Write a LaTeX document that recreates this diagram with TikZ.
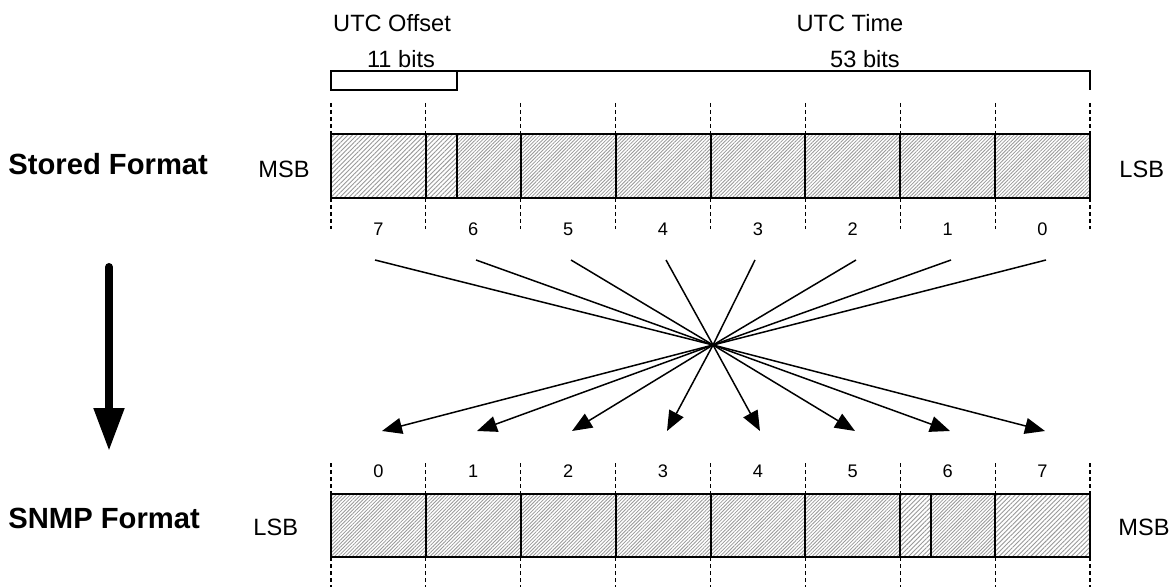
\documentclass[tikz,border=0pt]{standalone}
\usepackage{fontspec}
\setmainfont{Liberation Sans}
\usetikzlibrary{arrows.meta,patterns.meta}

\begin{document}
\begin{tikzpicture}[x=0.5pt,y=-0.5pt,
  lbl/.style={font=\fontsize{11.8pt}{14pt}\selectfont, inner sep=0pt, anchor=base},
  num/.style={font=\fontsize{9.1pt}{11pt}\selectfont, inner sep=0pt, anchor=base},
  heading/.style={font=\fontsize{14.6pt}{17pt}\selectfont\bfseries, inner sep=0pt, anchor=base west},
  guide/.style={line width=0.6pt, dash pattern=on 2pt off 1.5pt},
  hatchoff/.style={pattern={Lines[angle=45,distance=1.6pt,line width=0.45pt]}, pattern color=gray!80},
  hatchtime/.style={pattern={Lines[angle=45,distance=1.25pt,line width=0.4pt]}, pattern color=gray!80},
  cell/.style={line width=1pt},
  bracket/.style={line width=0.7pt},
  ray/.style={line width=0.75pt, -{Triangle[length=10pt,width=8pt]}},
  bigarrow/.style={line width=4pt, line cap=round, -{Triangle[length=21.5pt,width=14.5pt]}},
]
\useasboundingbox (0,0) rectangle (1171,587);

% field labels and bracket
\node[lbl] (utcoff) at (392,32) {UTC Offset};
\node[lbl] (utctime) at (850,32) {UTC Time};
\node[lbl] (offbits) at (401,68) {11 bits};
\node[lbl] (timebits) at (865,68) {53 bits};
\draw[bracket] (331,71) rectangle (457,90);
\draw[bracket] (457,71) -- (1090,71) -- (1090,90);

% byte boundaries
\foreach \i in {0,...,8} {
  \pgfmathsetmacro{\bx}{331+\i*94.875}
  \draw[guide] (\bx,103) -- (\bx,134);
  \draw[guide] (\bx,198) -- (\bx,229);
  \draw[guide] (\bx,463) -- (\bx,494);
  \draw[guide] (\bx,557) -- (\bx,587);
}

% stored format bar
\fill[white] (331,134) rectangle (1090,198);
\path[hatchoff] (331,134) rectangle (457,198);
\path[hatchtime] (457,134) rectangle (1090,198);
\draw[cell] (331,134) rectangle (1090,198);
\foreach \i in {1,...,7} {
  \pgfmathsetmacro{\bx}{331+\i*94.875}
  \draw[cell] (\bx,134) -- (\bx,198);
}
\draw[cell] (457,134) -- (457,198);

% SNMP format bar
\fill[white] (331,494) rectangle (1090,557);
\path[hatchtime] (331,494) rectangle (900,557);
\path[hatchoff] (900,494) rectangle (931,557);
\path[hatchtime] (931,494) rectangle (995,557);
\path[hatchoff] (995,494) rectangle (1090,557);
\draw[cell] (331,494) rectangle (1090,557);
\foreach \i in {1,...,7} {
  \pgfmathsetmacro{\bx}{331+\i*94.875}
  \draw[cell] (\bx,494) -- (\bx,557);
}
\draw[cell] (931,494) -- (931,557);

% byte numbers
\foreach \n [count=\i from 0] in {7,6,5,4,3,2,1,0} {
  \pgfmathsetmacro{\cx}{378.4+\i*94.875}
  \node[num] (top\n) at (\cx,236) {\n};
}
\foreach \n [count=\i from 0] in {0,1,2,3,4,5,6,7} {
  \pgfmathsetmacro{\cx}{378.4+\i*94.875}
  \node[num] (bot\n) at (\cx,477) {\n};
}

% side labels
\node[heading] (stored) at (8,175) {Stored Format};
\node[heading] (snmp) at (8,528) {SNMP Format};
\node[lbl, anchor=base west] (msbtop) at (258,178) {MSB};
\node[lbl, anchor=base west] (lsbtop) at (1119,178) {LSB};
\node[lbl, anchor=base west] (lsbbot) at (253,535) {LSB};
\node[lbl, anchor=base west] (msbbot) at (1118,535) {MSB};

% byte reordering rays
\coordinate (X) at (713,345);
\foreach \n/\sx/\ex in {7/375/1045, 6/476/950, 5/571/855, 4/666/760,
                        3/755/667, 2/856/572, 1/951/477, 0/1046/382} {
  \coordinate (s\n) at (\sx,260);
  \coordinate (e\n) at (\ex,431);
  \draw[ray] (s\n) -- (X) -- (e\n);
}

% conversion direction
\coordinate (flowtop) at (109,267);
\coordinate (flowend) at (109,451);
\draw[bigarrow] (flowtop) -- (flowend);
\end{tikzpicture}
\end{document}
